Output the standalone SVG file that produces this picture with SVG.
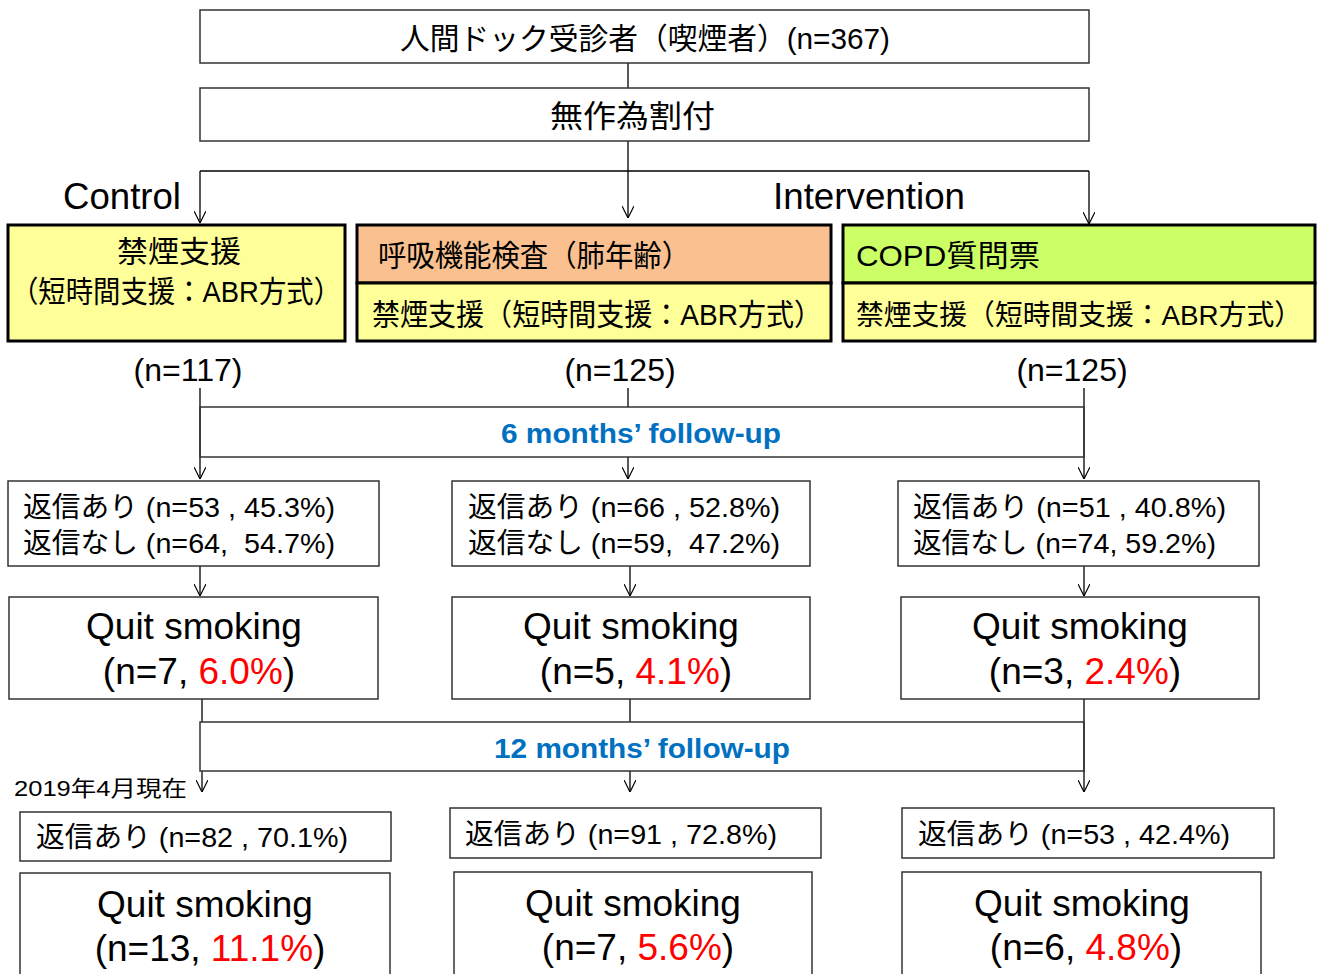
<svg xmlns="http://www.w3.org/2000/svg" width="1324" height="974" viewBox="0 0 1324 974">
<defs>
<marker id="arr" viewBox="0 0 12 12" refX="12" refY="6" markerWidth="12" markerHeight="12" markerUnits="userSpaceOnUse" orient="auto">
<path d="M0,0 L12,6 L0,12" fill="none" stroke="#000" stroke-width="1.2"/>
</marker>
<style>
.box{fill:#fff;stroke:#333;stroke-width:1.5}
.cbox{stroke:#000;stroke-width:3}
.yel{fill:#FFFF99}
.org{fill:#FAC090}
.grn{fill:#CCFF66}
.t{font-family:"Liberation Sans","Noto Sans CJK JP",sans-serif;fill:#000}
.pre{white-space:pre}
.blue{font-family:"Liberation Sans",sans-serif;font-weight:bold;fill:#0070C0;font-size:28px}
.red{fill:#FF0000}
.c{stroke:#000;stroke-width:1.3;fill:none}
.ca{stroke:#000;stroke-width:1.3;fill:none;marker-end:url(#arr)}
</style>
</defs>
<rect width="1324" height="974" fill="#fff"/>

<g id="connectors">
<path class="c" d="M628,63 V88"/>
<path class="ca" d="M628,141 V218"/>
<path class="c" d="M200,171 H1089"/>
<path class="ca" d="M200,171 V223"/>
<path class="ca" d="M1089,171 V224"/>
<path class="ca" d="M200,388 V479"/>
<path class="c" d="M628,388 V407"/>
<path class="ca" d="M628,457 V479"/>
<path class="ca" d="M1084,388 V479"/>
<path class="ca" d="M200,566 V596"/>
<path class="ca" d="M630,566 V596"/>
<path class="ca" d="M1084,566 V596"/>
<path class="c" d="M202,699 V722"/>
<path class="c" d="M630,699 V722"/>
<path class="ca" d="M1084,699 V792"/>
<path class="ca" d="M202,771 V792"/>
<path class="ca" d="M630,771 V792"/>
</g>

<g id="screened">
<rect class="box" x="200" y="10" width="889" height="53"/>
<text class="t" x="400" y="49" font-size="30" textLength="490" lengthAdjust="spacingAndGlyphs">人間ドック受診者（喫煙者）(n=367)</text>
</g>

<g id="randomization">
<rect class="box" x="200" y="88" width="889" height="53"/>
<text class="t" x="550" y="127" font-size="31" textLength="165" lengthAdjust="spacingAndGlyphs">無作為割付</text>
</g>

<g id="labels">
<text class="t" x="63" y="209" font-size="36" textLength="118" lengthAdjust="spacingAndGlyphs">Control</text>
<text class="t" x="773" y="209" font-size="36" textLength="192" lengthAdjust="spacingAndGlyphs">Intervention</text>
<text class="t" x="188" y="381" font-size="32" text-anchor="middle">(n=117)</text>
<text class="t" x="620" y="381" font-size="32" text-anchor="middle">(n=125)</text>
<text class="t" x="1072" y="381" font-size="32" text-anchor="middle">(n=125)</text>
<text class="t" x="14" y="796" font-size="22" textLength="173" lengthAdjust="spacingAndGlyphs">2019年4月現在</text>
</g>

<g id="control-arm">
<rect class="cbox yel" x="8" y="225" width="337" height="116"/>
<text class="t" x="117" y="262" font-size="30" textLength="124" lengthAdjust="spacingAndGlyphs">禁煙支援</text>
<text class="t" x="11" y="302" font-size="30" textLength="330" lengthAdjust="spacingAndGlyphs">（短時間支援：ABR方式）</text>
</g>

<g id="spirometry-arm">
<rect class="cbox org" x="357" y="225" width="474" height="58"/>
<rect class="cbox yel" x="357" y="283" width="474" height="58"/>
<text class="t" x="378" y="266" font-size="30" textLength="312" lengthAdjust="spacingAndGlyphs">呼吸機能検査（肺年齢）</text>
<text class="t" x="372" y="325" font-size="30" textLength="450" lengthAdjust="spacingAndGlyphs">禁煙支援（短時間支援：ABR方式）</text>
</g>

<g id="copd-arm">
<rect class="cbox grn" x="843" y="225" width="472" height="58"/>
<rect class="cbox yel" x="843" y="283" width="472" height="58"/>
<text class="t" x="856" y="266" font-size="30" textLength="184" lengthAdjust="spacingAndGlyphs">COPD質問票</text>
<text class="t" x="856" y="325" font-size="28.5" textLength="446" lengthAdjust="spacingAndGlyphs">禁煙支援（短時間支援：ABR方式）</text>
</g>

<g id="followup6">
<rect class="box" x="200" y="407" width="884" height="50" style="fill:none"/>
<text class="blue" x="501" y="443" textLength="280" lengthAdjust="spacingAndGlyphs">6 months’ follow-up</text>
</g>

<g id="reply6-control">
<rect class="box" x="8" y="481" width="371" height="85"/>
<text class="t pre" x="23" y="517" font-size="28" textLength="312" lengthAdjust="spacingAndGlyphs">返信あり (n=53 , 45.3%)</text>
<text class="t pre" x="23" y="553" font-size="28" textLength="312" lengthAdjust="spacingAndGlyphs">返信なし (n=64,  54.7%)</text>
</g>
<g id="reply6-spiro">
<rect class="box" x="452" y="481" width="358" height="85"/>
<text class="t pre" x="468" y="517" font-size="28" textLength="312" lengthAdjust="spacingAndGlyphs">返信あり (n=66 , 52.8%)</text>
<text class="t pre" x="468" y="553" font-size="28" textLength="312" lengthAdjust="spacingAndGlyphs">返信なし (n=59,  47.2%)</text>
</g>
<g id="reply6-copd">
<rect class="box" x="898" y="481" width="361" height="85"/>
<text class="t pre" x="913" y="517" font-size="28" textLength="313" lengthAdjust="spacingAndGlyphs">返信あり (n=51 , 40.8%)</text>
<text class="t pre" x="913" y="553" font-size="28" textLength="303" lengthAdjust="spacingAndGlyphs">返信なし (n=74, 59.2%)</text>
</g>

<g id="quit6-control">
<rect class="box" x="9" y="597" width="369" height="102"/>
<text class="t" x="194" y="639" font-size="37" text-anchor="middle">Quit smoking</text>
<text class="t" x="199" y="684" font-size="37" text-anchor="middle">(n=7, <tspan class="red">6.0%</tspan>)</text>
</g>
<g id="quit6-spiro">
<rect class="box" x="452" y="597" width="358" height="102"/>
<text class="t" x="631" y="639" font-size="37" text-anchor="middle">Quit smoking</text>
<text class="t" x="636" y="684" font-size="37" text-anchor="middle">(n=5, <tspan class="red">4.1%</tspan>)</text>
</g>
<g id="quit6-copd">
<rect class="box" x="901" y="597" width="358" height="102"/>
<text class="t" x="1080" y="639" font-size="37" text-anchor="middle">Quit smoking</text>
<text class="t" x="1085" y="684" font-size="37" text-anchor="middle">(n=3, <tspan class="red">2.4%</tspan>)</text>
</g>

<g id="followup12">
<rect class="box" x="200" y="722" width="884" height="49" style="fill:none"/>
<text class="blue" x="494" y="758" textLength="296" lengthAdjust="spacingAndGlyphs">12 months’ follow-up</text>
</g>

<g id="reply12-control">
<rect class="box" x="20" y="812" width="371" height="49"/>
<text class="t pre" x="36" y="847" font-size="28" textLength="312" lengthAdjust="spacingAndGlyphs">返信あり (n=82 , 70.1%)</text>
</g>
<g id="reply12-spiro">
<rect class="box" x="450" y="808" width="371" height="50"/>
<text class="t pre" x="465" y="844" font-size="28" textLength="312" lengthAdjust="spacingAndGlyphs">返信あり (n=91 , 72.8%)</text>
</g>
<g id="reply12-copd">
<rect class="box" x="902" y="808" width="372" height="50"/>
<text class="t pre" x="918" y="844" font-size="28" textLength="312" lengthAdjust="spacingAndGlyphs">返信あり (n=53 , 42.4%)</text>
</g>

<g id="quit12-control">
<rect class="box" x="20" y="873" width="370" height="110"/>
<text class="t" x="205" y="917" font-size="37" text-anchor="middle">Quit smoking</text>
<text class="t" x="210" y="961" font-size="37" text-anchor="middle">(n=13, <tspan class="red">11.1%</tspan>)</text>
</g>
<g id="quit12-spiro">
<rect class="box" x="454" y="872" width="358" height="110"/>
<text class="t" x="633" y="916" font-size="37" text-anchor="middle">Quit smoking</text>
<text class="t" x="638" y="960" font-size="37" text-anchor="middle">(n=7, <tspan class="red">5.6%</tspan>)</text>
</g>
<g id="quit12-copd">
<rect class="box" x="902" y="872" width="359" height="110"/>
<text class="t" x="1082" y="916" font-size="37" text-anchor="middle">Quit smoking</text>
<text class="t" x="1086" y="960" font-size="37" text-anchor="middle">(n=6, <tspan class="red">4.8%</tspan>)</text>
</g>
</svg>
